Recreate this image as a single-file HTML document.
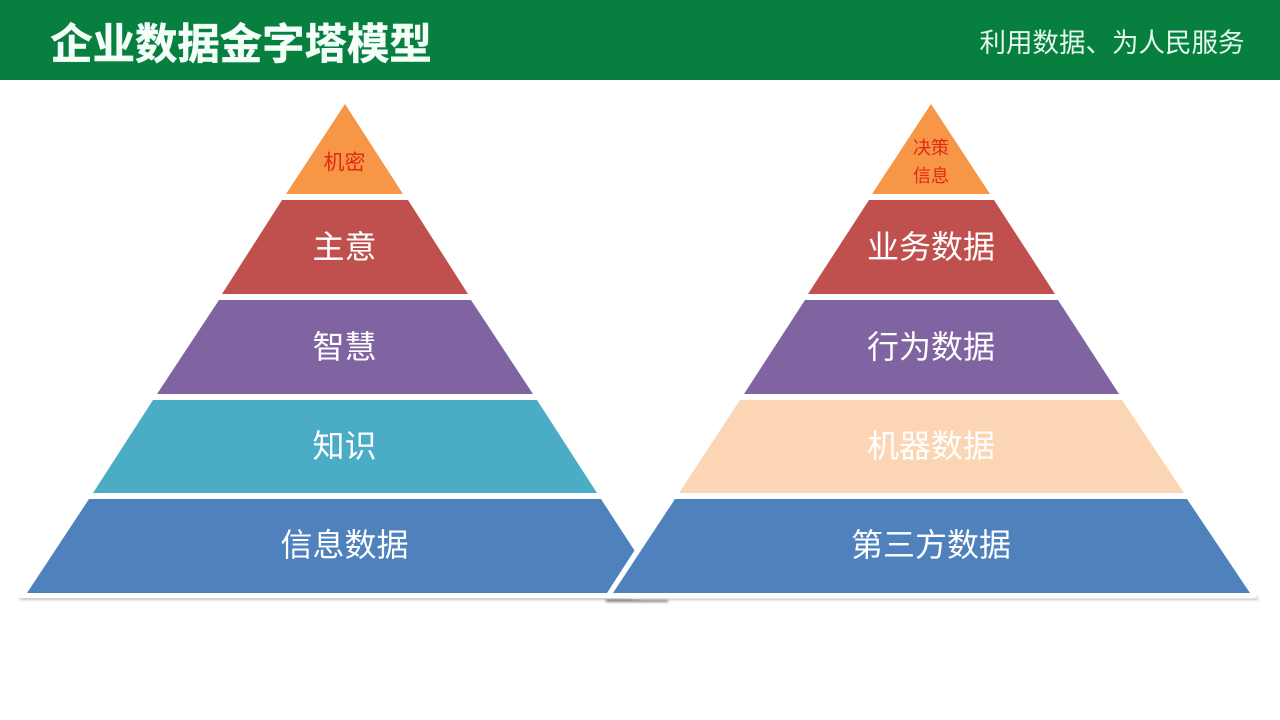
<!DOCTYPE html>
<html lang="zh">
<head>
<meta charset="utf-8">
<title>企业数据金字塔模型</title>
<style>
html,body{margin:0;padding:0;background:#fff;width:1280px;height:720px;overflow:hidden}
svg{display:block}
text{font-family:"Liberation Sans","Noto Sans CJK SC",sans-serif;text-anchor:middle}
.w{fill:#fff;font-size:32px}
.r{fill:#e02a12;font-size:21px}
</style>
</head>
<body>
<svg width="1280" height="720" viewBox="0 0 1280 720" xmlns="http://www.w3.org/2000/svg">
<defs>
<filter id="s" x="-5%" y="-300%" width="110%" height="700%"><feGaussianBlur stdDeviation="1.2"/></filter>
</defs>
<rect width="1280" height="720" fill="#fff"/>
<rect width="1280" height="80" fill="#07803f"/>
<text x="241" y="59" font-weight="700" fill="#f4fff9" stroke="#f4fff9" stroke-width="0.5" style="font-size:42.4px">企业数据金字塔模型</text>
<text x="1112" y="52" fill="#e6f8ee" style="font-size:26.5px">利用数据、为人民服务</text>

<!-- shadows -->
<rect x="20" y="597" width="612" height="3" fill="#c9c2bb" filter="url(#s)"/>
<rect x="606" y="599" width="62" height="3" fill="#7f7f7f" filter="url(#s)"/>
<rect x="640" y="597" width="618" height="3" fill="#c9c2bb" filter="url(#s)"/>

<!-- left pyramid -->
<polygon points="345,97 22,593 22,596 640,596 640,593" fill="#fff" stroke="#fff" stroke-width="4" stroke-linejoin="round"/>
<polygon points="345,104 403,194 286,194" fill="#f79646"/>
<polygon points="282,200 408,200 468,294 222,294" fill="#c0504d"/>
<polygon points="219,300 471,300 533,394 157,394" fill="#8064a2"/>
<polygon points="153,400 537,400 597,493 93,493" fill="#4bacc6"/>
<polygon points="89,499 601,499 662,593 27,593" fill="#4f81bd"/>

<!-- right pyramid -->
<polygon points="931,97 608,596 1254,596" fill="#fff" stroke="#fff" stroke-width="5" stroke-linejoin="round"/>
<polygon points="931,104 990,194 872,194" fill="#f79646"/>
<polygon points="869,200 994,200 1055,294 808,294" fill="#c0504d"/>
<polygon points="805,300 1058,300 1119,394 744,394" fill="#8064a2"/>
<polygon points="740,400 1122,400 1184,493 679,493" fill="#fcd5b5"/>
<polygon points="675,499 1187,499 1250,593 613,593" fill="#4f81bd"/>

<!-- left labels -->
<text class="r" x="344.5" y="169.5">机密</text>
<text class="w" x="344.5" y="258">主意</text>
<text class="w" x="344.5" y="358">智慧</text>
<text class="w" x="344.5" y="457">知识</text>
<text class="w" x="344.5" y="556">信息数据</text>

<!-- right labels -->
<text class="r" x="931" y="154" style="font-size:18px">决策</text>
<text class="r" x="931" y="182" style="font-size:18px">信息</text>
<text class="w" x="931" y="258">业务数据</text>
<text class="w" x="931" y="358">行为数据</text>
<text class="w" x="931" y="457">机器数据</text>
<text class="w" x="931" y="556">第三方数据</text>
</svg>
</body>
</html>
